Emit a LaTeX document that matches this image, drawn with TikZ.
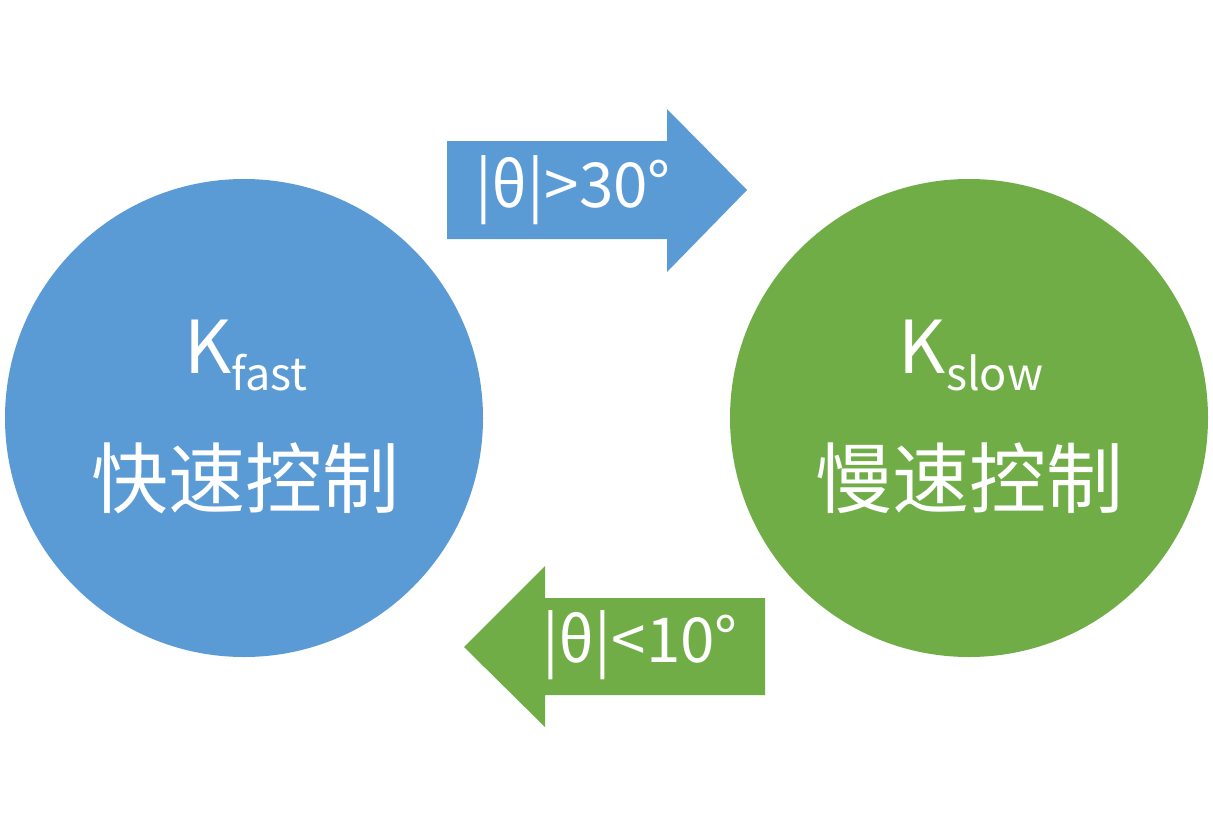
\documentclass[tikz,border=0pt]{standalone}
\usepackage{fontspec}
\setmainfont{Noto Sans CJK SC}
\newfontfamily\cjk{Noto Sans CJK SC}
\definecolor{cblue}{HTML}{5B9BD5}
\definecolor{cgreen}{HTML}{70AD47}
\begin{document}
\begin{tikzpicture}[x=1pt,y=-1pt,
  state/.style={circle,minimum size=478pt,inner sep=0pt},
  keylabel/.style={text=white,anchor=base,inner sep=0pt,font=\fontsize{73}{73}\selectfont},
  cnlabel/.style={text=white,anchor=center,inner sep=0pt,font=\cjk\fontsize{77}{77}\selectfont},
  condlabel/.style={text=white,anchor=base,inner sep=0pt,font=\fontsize{62}{62}\selectfont}]
\useasboundingbox (0,0) rectangle (1213,836);
\node[state,fill=cblue] (fast) at (244,418) {};
\node[state,fill=cgreen] (slow) at (969,418) {};
\node[keylabel] (kf) at (246,373) {K\raisebox{-17pt}{\fontsize{45}{45}\selectfont fast}};
\node[keylabel] (ks) at (971,373) {K\raisebox{-17pt}{\fontsize{45}{45}\selectfont slow}};
\node[cnlabel] (cf) at (245,478) {快速控制};
\node[cnlabel] (cs) at (969,478) {慢速控制};
\fill[cblue] (447,141) -- (667,141) -- (667,109) -- (747,190) -- (667,272) -- (667,239) -- (447,239) -- cycle;
\fill[cgreen] (765,598) -- (545,598) -- (545,566) -- (464,647) -- (545,727) -- (545,695) -- (765,695) -- cycle;
\node[condlabel] (up) at (573,207) {|θ|>30°};
\node[condlabel] (down) at (640,662) {|θ|<10°};
\end{tikzpicture}
\end{document}
